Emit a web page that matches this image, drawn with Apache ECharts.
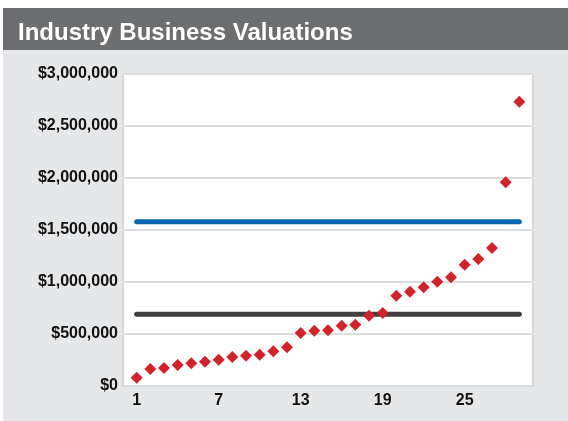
<!DOCTYPE html>
<html>
<head>
<meta charset="utf-8">
<script src="https://cdn.jsdelivr.net/npm/echarts@6/dist/echarts.min.js"></script>
<style>
  html, body { margin: 0; padding: 0; background: #ffffff; }
  #chart { width: 568px; height: 421px; }
</style>
</head>
<body>
<div id="chart"></div>
<script>
// company index 1..29, sorted by valuation
const companies = [1, 2, 3, 4, 5, 6, 7, 8, 9, 10, 11, 12, 13, 14, 15, 16, 17, 18, 19, 20, 21, 22, 23, 24, 25, 26, 27, 28, 29]
const valuations = [
  80000, 163000, 173000, 202000, 218000, 234000, 253000, 279000, 291000, 300000,
  334000, 372000, 510000, 532000, 535000, 580000, 590000, 676000, 702000, 868000,
  907000, 949000, 1003000, 1045000, 1166000, 1221000, 1327000, 1959000, 2734000
]
const benchmarkValue = 1580000
const averageValue = 690000
const xTickLabels = [1, 7, 13, 19, 25]

const RED = '#d2232a'
const BLUE = '#0668b3'
const DARK = '#404040'
const FONT = '"Liberation Sans", Arial, sans-serif'

const first = companies[0]
const last = companies[companies.length - 1]

const chart = echarts.init(document.getElementById('chart'), null, { renderer: 'canvas' })

chart.setOption({
  animation: false,
  backgroundColor: '#ffffff',
  graphic: [
    { type: 'rect', z: -10, shape: { x: 3, y: 50, width: 565, height: 371 }, style: { fill: '#e6e7e8' } },
    { type: 'rect', z: -10, shape: { x: 3, y: 8, width: 565, height: 42 }, style: { fill: '#6d6e70' } }
  ],
  title: {
    text: 'Industry Business Valuations',
    left: 13,
    top: 16,
    textStyle: { color: '#ffffff', fontFamily: FONT, fontSize: 24, fontWeight: 'bold' }
  },
  grid: {
    left: 123,
    top: 74,
    right: 35,
    bottom: 35,
    show: true,
    backgroundColor: '#ffffff',
    borderColor: '#d6d7d9',
    borderWidth: 2
  },
  xAxis: {
    type: 'value',
    min: 0,
    max: 30,
    axisLine: { show: false },
    axisTick: { show: false },
    splitLine: { show: false },
    axisLabel: {
      customValues: xTickLabels,
      margin: 7,
      color: '#111111',
      fontFamily: FONT,
      fontSize: 16,
      fontWeight: 'bold'
    }
  },
  yAxis: {
    type: 'value',
    min: 0,
    max: 3000000,
    interval: 500000,
    axisLine: { show: false },
    axisTick: { show: false },
    splitLine: { lineStyle: { color: '#dcdddf', width: 2 } },
    axisLabel: {
      margin: 5,
      color: '#111111',
      fontFamily: FONT,
      fontSize: 16,
      fontWeight: 'bold',
      formatter: v => '$' + v.toLocaleString('en-US')
    }
  },
  series: [
    {
      type: 'line',
      data: [[first, benchmarkValue], [last, benchmarkValue]],
      symbol: 'none',
      lineStyle: { color: BLUE, width: 5, cap: 'round' },
      z: 2
    },
    {
      type: 'line',
      data: [[first, averageValue], [last, averageValue]],
      symbol: 'none',
      lineStyle: { color: DARK, width: 5, cap: 'round' },
      z: 2
    },
    {
      type: 'scatter',
      data: companies.map((c, i) => [c, valuations[i]]),
      symbol: 'diamond',
      symbolSize: 12,
      itemStyle: { color: RED, opacity: 1 },
      z: 5
    }
  ]
})
</script>
</body>
</html>
